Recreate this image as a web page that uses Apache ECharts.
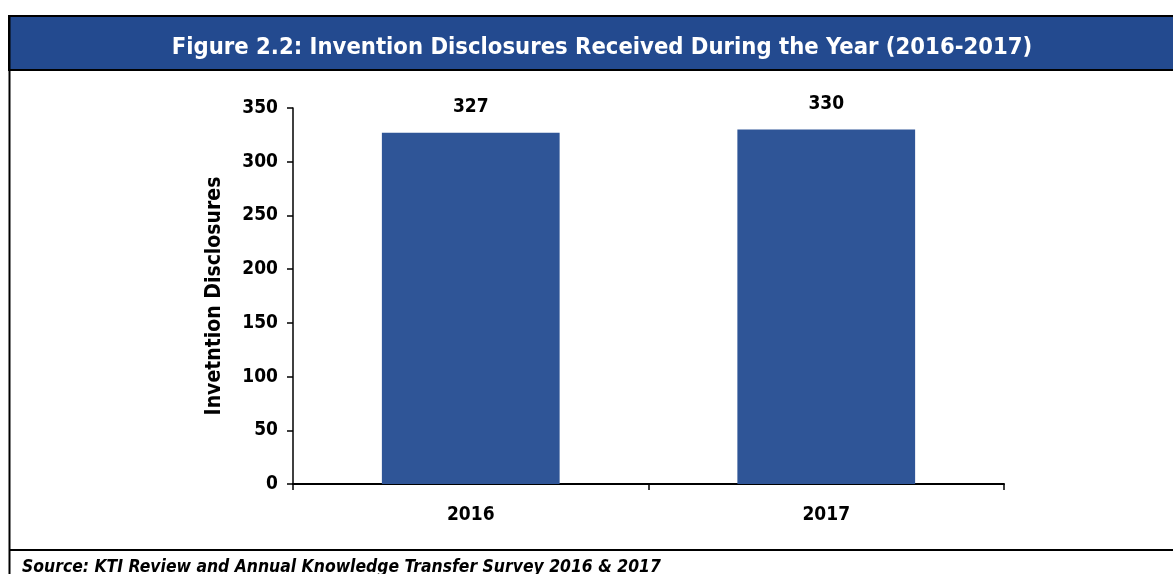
<!DOCTYPE html>
<html>
<head>
<meta charset="utf-8">
<script src="https://cdn.jsdelivr.net/npm/echarts@6/dist/echarts.min.js"></script>
<style>
  html, body { margin: 0; padding: 0; background: #fff; }
  #chart { width: 1173px; height: 574px; }
</style>
</head>
<body>
<div id="chart"></div>
<script>
// Invention disclosures received per year
const years = ['2016', '2017'];
const disclosures = [327, 330];
const yTicks = [0, 50, 100, 150, 200, 250, 300, 350];

const FONT = '"Liberation Sans Narrow", "DejaVu Sans Condensed", "Open Sans", sans-serif';
const chart = echarts.init(document.getElementById('chart'), null, { renderer: 'canvas' });

chart.setOption({
  backgroundColor: '#ffffff',
  animation: false,
  title: {
    text: 'Figure 2.2: Invention Disclosures Received During the Year (2016-2017)',
    left: 597, top: 31, textAlign: 'center',
    textStyle: { color: '#ffffff', fontFamily: FONT, fontWeight: 'bold', fontSize: 23.6 }
  },
  graphic: [
    // title band with frame
    { type: 'rect', shape: { x: 9, y: 16, width: 1180, height: 54 },
      style: { fill: '#234A8F', stroke: '#000', lineWidth: 2 }, z: -1 },
    // outer frame: left edge and bottom rule
    { type: 'line', shape: { x1: 9.5, y1: 16, x2: 9.5, y2: 574 }, style: { stroke: '#000', lineWidth: 2 } },
    { type: 'line', shape: { x1: 9, y1: 550, x2: 1173, y2: 550 }, style: { stroke: '#000', lineWidth: 2 } },
    { type: 'text', left: 22, top: 559,
      style: { text: 'Source: KTI Review and Annual Knowledge Transfer Survey 2016 & 2017',
               fill: '#000', font: 'italic bold 17.4px ' + FONT } }
  ],
  grid: { left: 293, right: 169, top: 108, bottom: 90 },
  xAxis: {
    type: 'category',
    data: years,
    axisLine: { lineStyle: { color: '#000', width: 2 } },
    axisTick: { show: true, length: 6, lineStyle: { color: '#000', width: 1.5 } },
    axisLabel: { color: '#000', fontFamily: FONT, fontWeight: 'bold', fontSize: 19, margin: 22 }
  },
  yAxis: {
    type: 'value',
    min: yTicks[0], max: yTicks[yTicks.length - 1], interval: 50,
    name: 'Invetntion Disclosures',
    nameLocation: 'middle', nameGap: 68, nameRotate: 90,
    nameTextStyle: { color: '#000', fontFamily: FONT, fontWeight: 'bold', fontSize: 21 },
    axisLine: { show: true, lineStyle: { color: '#000', width: 1.5 } },
    axisTick: { show: true, length: 6, lineStyle: { color: '#000', width: 1.5 } },
    splitLine: { show: false },
    axisLabel: { color: '#000', fontFamily: FONT, fontWeight: 'bold', fontSize: 19, margin: 15 }
  },
  series: [{
    type: 'bar',
    data: disclosures,
    barWidth: '50%',
    itemStyle: { color: '#2F5597' },
    label: { show: true, position: 'top', distance: 16, color: '#000',
             fontFamily: FONT, fontWeight: 'bold', fontSize: 19 }
  }]
});
</script>
</body>
</html>
